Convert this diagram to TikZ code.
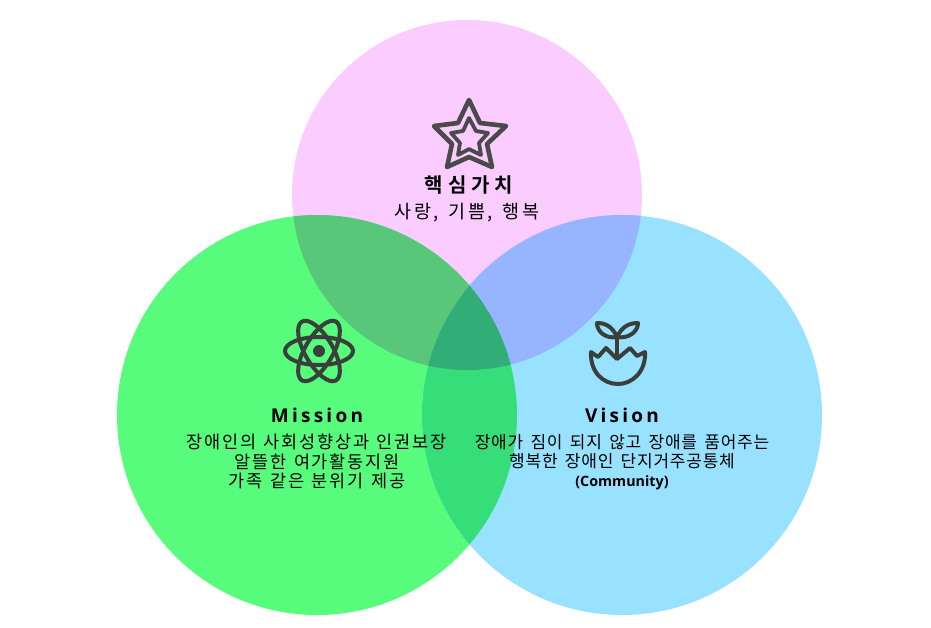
\documentclass[tikz,border=0pt]{standalone}
\usepackage{fontspec}
\setmainfont{Noto Sans CJK KR}
\newfontfamily\latinb{Open Sans}[LetterSpace=17,Scale=1,BoldFont={Open Sans Bold}]
\newfontfamily\cjkmission{Noto Sans CJK KR}[LetterSpace=10,WordSpace=1.34]
\newfontfamily\cjkvision{Noto Sans CJK KR}[LetterSpace=4.5,WordSpace=1.6]
\newfontfamily\cjkcore{Noto Sans CJK KR}[LetterSpace=13,WordSpace=1.5]
\newfontfamily\cjkhead{Noto Sans CJK KR Bold}[LetterSpace=25]
\newfontfamily\comm{Open Sans}
\definecolor{cpink}{HTML}{FACCFF}
\definecolor{cgreen}{HTML}{58FC7C}
\definecolor{cblue}{HTML}{99E2FF}
\definecolor{cpg}{HTML}{58C77A}
\definecolor{cpb}{HTML}{96B4FF}
\definecolor{cgb}{HTML}{35DE78}
\definecolor{cpgb}{HTML}{33AD78}
\definecolor{iconc}{HTML}{4A4A4A}
\definecolor{iconb}{HTML}{3A3F3C}
\begin{document}
\begin{tikzpicture}[x=1pt,y=-1pt,
  venn/.style={circle,inner sep=0pt,outer sep=0pt,minimum size=#1},
  mbody/.style={font=\fontsize{17.5}{20}\selectfont\cjkmission,text=black,inner sep=0pt},
  vbody/.style={font=\fontsize{17}{20}\selectfont\cjkvision,text=black,inner sep=0pt},
  cbody/.style={font=\fontsize{18.5}{20}\selectfont\cjkcore,text=black,inner sep=0pt},
  head/.style={font=\fontsize{20}{22}\selectfont\cjkhead,text=black,inner sep=0pt},
  lathead/.style={font=\fontsize{19}{22}\selectfont\latinb\bfseries,text=black,inner sep=0pt},
  commlabel/.style={font=\fontsize{14.3}{18}\selectfont\comm\bfseries,text=black,inner sep=0pt},
  iconline/.style={draw=iconc,line width=4.6pt,line join=round,line cap=round},
  iconlineb/.style={draw=iconb,line width=4pt,line join=round,line cap=round}]
\useasboundingbox (0,0) rectangle (931,627);
\fill[white] (0,0) rectangle (931,627);
\node[venn=350pt,fill=cpink] (core) at (467,195) {};
\node[venn=400pt,fill=cgreen] (mission) at (317,415) {};
\node[venn=400pt,fill=cblue] (vision) at (622,415) {};
\begin{scope}\clip (467,195) circle (175);
  \fill[cpg] (317,415) circle (200);
  \fill[cpb] (622,415) circle (200);
\end{scope}
\begin{scope}\clip (317,415) circle (200);
  \fill[cgb] (622,415) circle (200);
  \clip (622,415) circle (200);
  \fill[cpgb] (467,195) circle (175);
\end{scope}
% star icon
\draw[iconline] (469,100) -- (480,123) -- (506,126) -- (487,144) -- (492,167) -- (469,157) -- (447,167) -- (452,144) -- (434,126) -- (458,123) -- cycle;
\draw[iconline,line width=3.8pt] (469,118) -- (476,131) -- (488,133) -- (479,143) -- (481,155) -- (469,149) -- (458,155) -- (460,143) -- (451,133) -- (463,131) -- cycle;
% atom icon
\draw[iconlineb] (319,351) ellipse [x radius=34,y radius=14];
\draw[iconlineb] (319,351) ellipse [x radius=34,y radius=14,rotate=60];
\draw[iconlineb] (319,351) ellipse [x radius=34,y radius=14,rotate=-60];
\fill[iconb] (319,351) circle (6);
% sprout icon
\draw[iconlineb] (591,352) -- (598,357) -- (606,348) -- (617,359) -- (630,348) -- (637,356) -- (645,352)
  .. controls (646,372) and (632,384) .. (618,384) .. controls (603,384) and (590,372) .. (591,352) -- cycle;
\draw[iconlineb] (617,358) -- (617,337);
\draw[iconlineb] (617,337) .. controls (612,326) and (605,323) .. (597,323) .. controls (597,332) and (606,339) .. (617,337);
\draw[iconlineb] (617,337) .. controls (622,326) and (630,323) .. (638,323) .. controls (638,332) and (628,339) .. (617,337);
% labels
\node[head] (corehead) at (469,185) {핵심가치};
\node[cbody] (corebody) at (467,212.5) {사랑, 기쁨, 행복};
\node[lathead] (mhead) at (317,415) {Mission};
\node[mbody] (m1) at (316.5,442) {장애인의 사회성향상과 인권보장};
\node[mbody] (m2) at (317,461.5) {알뜰한 여가활동지원};
\node[mbody] (m3) at (317,481) {가족 같은 분위기 제공};
\node[lathead] (vhead) at (622,415) {Vision};
\node[vbody] (v1) at (622,442) {장애가 짐이 되지 않고 장애를 품어주는};
\node[vbody] (v2) at (622,461.5) {행복한 장애인 단지거주공통체};
\node[commlabel] (v3) at (622,482.5) {(Community)};
\end{tikzpicture}
\end{document}
